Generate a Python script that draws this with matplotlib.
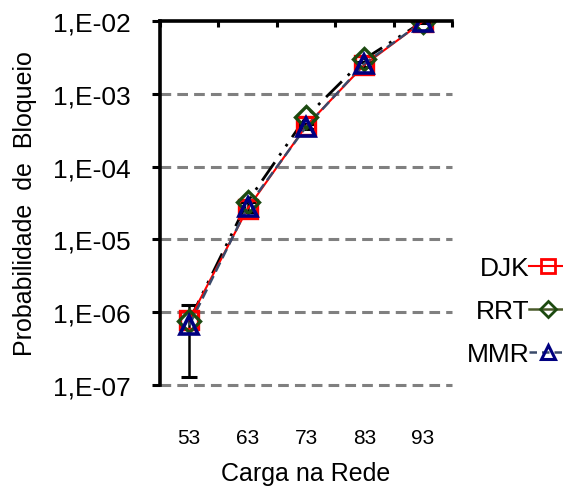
import matplotlib
matplotlib.use("Agg")
import matplotlib.pyplot as plt
from matplotlib.lines import Line2D
import numpy as np

plt.rcParams['font.family'] = ['Liberation Sans', 'DejaVu Sans']

cargas = ["53", "63", "73", "83", "93"]
djk = [7.8e-7, 2.65e-5, 3.6e-4, 2.5e-3, 9.8e-3]
rrt = [7.6e-7, 3.3e-5, 4.8e-4, 3.0e-3, 9.8e-3]
mmr = [6.6e-7, 2.8e-5, 3.5e-4, 2.6e-3, 9.8e-3]
djk_low = [1.3e-7, 2.4e-5, 3.3e-4, 2.3e-3, 9.4e-3]
djk_high = [1.25e-6, 3.3e-5, 3.9e-4, 2.7e-3, 1.0e-2]
ytick_vals = [1e-7, 1e-6, 1e-5, 1e-4, 1e-3, 1e-2]
ytick_labels = ["1,E-07", "1,E-06", "1,E-05", "1,E-04", "1,E-03", "1,E-02"]

fig = plt.figure(figsize=(5.63, 4.89), dpi=100)
ax = fig.add_axes([160/563, 1-386/489, 292/563, 364/489])

x = np.arange(len(cargas)) + 0.5

ax.set_yscale('log')
ax.set_ylim(1e-7, 1e-2)
ax.set_xlim(0, len(cargas))

for v in ytick_vals[:-1]:
    ax.axhline(v, color='#808080', lw=2.2, ls=(0, (3.5, 2)), zorder=1, clip_on=False)

# error bars of the DJK series
yerr = [np.array(djk) - np.array(djk_low), np.array(djk_high) - np.array(djk)]
ax.errorbar(x, djk, yerr=yerr, fmt='none', ecolor='black', elinewidth=1.8,
            capsize=6, capthick=2.2, zorder=3)

ax.plot(x, rrt, color='black', lw=2.0, ls=(0, (8, 3, 1, 3, 1, 3)), zorder=4)
ax.plot(x, djk, color='red', lw=1.5, zorder=5)
ax.plot(x, mmr, color='#3a4a6a', lw=1.8, ls=(0, (4, 2)), zorder=6)

ax.plot(x, djk, ls='none', marker='s', ms=13.5, mew=2.4, mec='red', mfc='none', zorder=7)
ax.plot(x, rrt, ls='none', marker='D', ms=11, mew=2.4, mec='#1c4a10', mfc='none', zorder=8)
ax.plot(x, mmr, ls='none', marker='^', ms=13.5, mew=2.6, mec='#000080', mfc='none', zorder=9)

for s in ['bottom', 'right']:
    ax.spines[s].set_visible(False)
for s in ['left', 'top']:
    ax.spines[s].set_linewidth(2.6)
    ax.spines[s].set_zorder(10)

ax.set_yticks(ytick_vals)
ax.set_yticklabels(ytick_labels)
ax.yaxis.set_minor_locator(matplotlib.ticker.NullLocator())
ax.tick_params(axis='y', which='major', length=5.8, width=2.2, labelsize=19, pad=15)

ax.set_xticks(x)
ax.set_xticklabels(cargas)
ax.tick_params(axis='x', which='major', length=0, labelsize=15, pad=31)
ax.set_xticks(np.arange(len(cargas) + 1), minor=True)
ax.tick_params(axis='x', which='minor', top=True, bottom=False, direction='in',
               length=4, width=2.2)

ax.set_xlabel("Carga na Rede", fontsize=18, labelpad=10)
ax.set_ylabel("Probabilidade  de  Bloqueio", fontsize=18, labelpad=12)

handles = [
    Line2D([], [], color='red', lw=1.5, marker='s', ms=10, mew=2, mec='red', mfc='none'),
    Line2D([], [], color='#4a5a2a', lw=1.8, marker='D', ms=8.5, mew=2, mec='#1c4a10', mfc='none'),
    Line2D([], [], color='#3a4a6a', lw=1.8, ls=(0, (3, 2)), marker='^', ms=10, mew=2.2, mec='#000080', mfc='none'),
]
fig.legend(handles, ["DJK", "RRT", "MMR"], loc='upper right',
           bbox_to_anchor=(1.008, 1 - 257/489), frameon=False, markerfirst=False,
           fontsize=19, handlelength=1.45, handletextpad=0.0, labelspacing=0.72,
           borderaxespad=0, borderpad=0)

fig.savefig("out.png", dpi=100)
